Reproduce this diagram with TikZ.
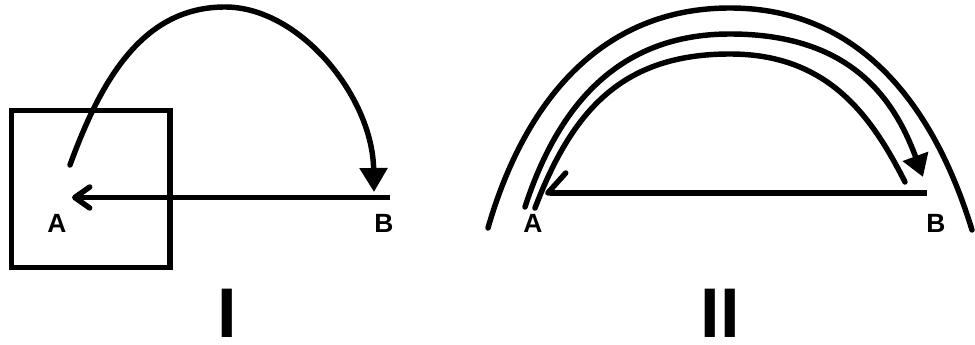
\documentclass[tikz,border=0pt]{standalone}
\usepackage{fontspec}
\setmainfont{Liberation Sans}
\usepackage{tikz}
\usetikzlibrary{arrows.meta, positioning}

\begin{document}
\begin{tikzpicture}[
    lbl/.style={font=\bfseries\fontsize{15}{18}\selectfont, inner sep=0pt},
    numeral/.style={font=\bfseries\fontsize{40}{48}\selectfont, inner sep=0pt},
    wire/.style={line width=3.1pt, line cap=round},
    arr_tri/.style={wire, -{Triangle[length=0.48cm, width=0.54cm]}},
    arr_tri_small/.style={wire, -{Triangle[length=0.44cm, width=0.52cm]}},
    arr_barb/.style={line width=3.1pt, -{Straight Barb[round, length=0.3cm, width=0.42cm]}},
    arr_half/.style={line width=3.1pt, -{Straight Barb[round, right, length=0.36cm, width=0.8cm]}}
]
    \useasboundingbox (0,0) rectangle (19.5,6.9);

    % Panel I: box around A, jump A -> B, return B -> A
    \draw[line width=3.1pt] (0.23,1.55) rectangle (3.40,4.69);
    \coordinate (a1) at (1.40,3.60);
    \coordinate (top1) at (4.50,6.76);
    \coordinate (b1) at (7.48,3.06);
    \coordinate (b1h) at (7.80,2.95);
    \coordinate (a1h) at (1.44,2.95);

    \draw[arr_tri] (a1) .. controls (2.05,5.39) and (2.90,6.76) .. (top1)
                        .. controls (6.00,6.76) and (7.45,4.96) .. (b1);
    \draw[arr_barb] (b1h) -- (a1h);

    \node[lbl] (labA1) at (1.14,2.44) {A};
    \node[lbl] (labB1) at (7.68,2.44) {B};
    \node[numeral] (num1) at (4.54,0.64) {I};

    % Panel II: three nested arcs, return B -> A
    \coordinate (o_l) at (9.76,2.34);
    \coordinate (o_t) at (14.60,6.74);
    \coordinate (o_r) at (19.44,2.30);
    \coordinate (m_l) at (10.50,2.76);
    \coordinate (m_t) at (14.60,6.22);
    \coordinate (m_r) at (18.46,3.36);
    \coordinate (i_l) at (10.70,2.74);
    \coordinate (i_t) at (14.60,5.82);
    \coordinate (i_r) at (18.10,3.26);
    \coordinate (b2h) at (18.54,3.04);
    \coordinate (a2h) at (10.90,3.04);

    \draw[wire] (o_l) .. controls (10.48,4.84) and (12.00,6.74) .. (o_t)
                      .. controls (17.20,6.74) and (18.68,4.79) .. (o_r);
    \draw[arr_tri_small] (m_l) .. controls (11.15,4.76) and (12.35,6.22) .. (m_t)
                               .. controls (16.90,6.22) and (17.84,5.05) .. (m_r);
    \draw[wire] (i_l) .. controls (11.45,4.70) and (12.45,5.82) .. (i_t)
                      .. controls (16.55,5.82) and (17.42,4.60) .. (i_r);
    \draw[arr_half] (b2h) -- (a2h);

    \node[lbl] (labA2) at (10.66,2.44) {A};
    \node[lbl] (labB2) at (18.72,2.44) {B};
    \node[numeral] (num2) at (14.40,0.64) {II};
\end{tikzpicture}
\end{document}
